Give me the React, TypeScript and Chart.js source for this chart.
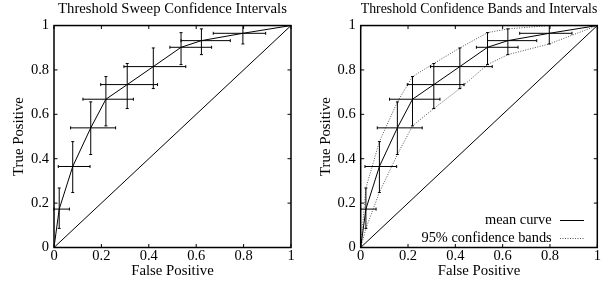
import React, { useEffect, useRef } from "react";
import { Chart, registerables } from "chart.js";
Chart.register(...registerables);

const FONT = "'Liberation Serif', 'Times New Roman', serif";

// ROC mean curve (threshold averaged)
const fpr = [0, 0.022, 0.079, 0.155, 0.219, 0.309, 0.419, 0.536, 0.622, 0.797, 1];
const tpr = [0, 0.173, 0.365, 0.539, 0.668, 0.734, 0.815, 0.902, 0.932, 0.965, 1];

// confidence intervals for interior points (index 1..9)
const tprLow = [0.086, 0.248, 0.419, 0.548, 0.626, 0.716, 0.824, 0.869, 0.917];
const tprHigh = [0.268, 0.477, 0.656, 0.77, 0.829, 0.899, 0.968, 0.985, 1.0];
const fprLow = [0, 0.018, 0.07, 0.122, 0.197, 0.295, 0.489, 0.536, 0.672];
const fprHigh = [0.065, 0.152, 0.26, 0.335, 0.437, 0.556, 0.665, 0.744, 0.893];

// chance diagonal
const diagX = [0, 1];
const diagY = [0, 1];

const tickValues = [0, 0.2, 0.4, 0.6, 0.8, 1];
const titles = ["Threshold Sweep Confidence Intervals", "Threshold Confidence Bands and Intervals"];
const xTitle = "False Positive";
const yTitle = "True Positive";
const legendLabels = ["mean curve", "95% confidence bands"];

const BAND_COLOR = "#555";
const BAND_DASH = [1, 1.5];

const pts = (xs: number[], ys: number[]) => xs.map((v, i) => ({ x: v, y: ys[i] }));
const fmtTick = (v: any) => String(Math.round(Number(v) * 10) / 10);

const framePlugin = {
  id: "frame",
  afterDatasetsDraw(chart: any, _args: any, opts: any) {
    const { ctx, chartArea: a } = chart;
    const x = chart.scales.x;
    const y = chart.scales.y;
    ctx.save();
    ctx.strokeStyle = "#000";
    ctx.lineWidth = 1;
    const cap = 1.5;
    for (let i = 0; i < tprLow.length; i++) {
      const px = x.getPixelForValue(fpr[i + 1]);
      const py = y.getPixelForValue(tpr[i + 1]);
      const yl = y.getPixelForValue(tprLow[i]);
      const yh = y.getPixelForValue(tprHigh[i]);
      const xl = x.getPixelForValue(fprLow[i]);
      const xh = x.getPixelForValue(fprHigh[i]);
      ctx.beginPath();
      ctx.moveTo(px, yl); ctx.lineTo(px, yh);
      ctx.moveTo(px - cap, yl); ctx.lineTo(px + cap, yl);
      ctx.moveTo(px - cap, yh); ctx.lineTo(px + cap, yh);
      ctx.moveTo(xl, py); ctx.lineTo(xh, py);
      ctx.moveTo(xl, py - cap); ctx.lineTo(xl, py + cap);
      ctx.moveTo(xh, py - cap); ctx.lineTo(xh, py + cap);
      ctx.stroke();
    }
    // inward ticks on all four sides
    const tl = 3.5;
    ctx.beginPath();
    for (const v of tickValues) {
      const px = x.getPixelForValue(v);
      ctx.moveTo(px, a.bottom); ctx.lineTo(px, a.bottom - tl);
      ctx.moveTo(px, a.top); ctx.lineTo(px, a.top + tl);
      const py = y.getPixelForValue(v);
      ctx.moveTo(a.left, py); ctx.lineTo(a.left + tl, py);
      ctx.moveTo(a.right, py); ctx.lineTo(a.right - tl, py);
    }
    ctx.stroke();
    // frame
    ctx.lineWidth = 1.5;
    ctx.strokeRect(a.left, a.top, a.right - a.left, a.bottom - a.top);

    if (opts && opts.legend) {
      ctx.font = `14.4px ${FONT}`;
      ctx.fillStyle = "#000";
      ctx.textAlign = "right";
      ctx.textBaseline = "middle";
      const rows = [a.bottom - 27.5, a.bottom - 9.5];
      legendLabels.forEach((lab, i) => {
        const ry = rows[i];
        ctx.fillText(lab, a.right - 45.6, ry);
        ctx.beginPath();
        ctx.lineWidth = 1;
        if (i === 1) {
          ctx.setLineDash(BAND_DASH);
          ctx.strokeStyle = BAND_COLOR;
        } else {
          ctx.setLineDash([]);
          ctx.strokeStyle = "#000";
        }
        ctx.moveTo(a.right - 37.3, Math.round(ry) + 0.5);
        ctx.lineTo(a.right - 13.3, Math.round(ry) + 0.5);
        ctx.stroke();
      });
      ctx.setLineDash([]);
    }
    ctx.restore();
  },
};

type Props = {
  title: string;
  bands: boolean;
  left: number;
  width: number;
  yWidth: number;
  padRight: number;
  yTitlePad: number;
};

function RocChart({ title, bands, left, width, yWidth, padRight, yTitlePad }: Props) {
  const ref = useRef<HTMLCanvasElement>(null);
  useEffect(() => {
    const datasets: any[] = [
      {
        label: "diagonal",
        data: pts(diagX, diagY),
        showLine: true,
        borderColor: "#000",
        borderWidth: 1,
        pointRadius: 0,
        tension: 0,
      },
      {
        label: legendLabels[0],
        data: pts(fpr, tpr),
        showLine: true,
        borderColor: "#000",
        borderWidth: 1,
        pointRadius: 0,
        tension: 0,
      },
    ];
    if (bands) {
      const upY = [0, ...tprHigh, 1];
      const loY = [0, ...tprLow, 1];
      datasets.push(
        {
          label: "upper band",
          data: pts(fpr, upY),
          showLine: true,
          borderColor: BAND_COLOR,
          borderWidth: 1,
          borderDash: BAND_DASH,
          pointRadius: 0,
          tension: 0,
        },
        {
          label: "lower band",
          data: pts(fpr, loY),
          showLine: true,
          borderColor: BAND_COLOR,
          borderWidth: 1,
          borderDash: BAND_DASH,
          pointRadius: 0,
          tension: 0,
        }
      );
    }
    const tickFont = { family: FONT, size: 14.5 };
    const axisFont = { family: FONT, size: 14.8 };
    const chart = new Chart(ref.current as HTMLCanvasElement, {
      type: "scatter",
      data: { datasets },
      plugins: [framePlugin],
      options: {
        animation: false,
        responsive: false,
        devicePixelRatio: 1,
        layout: { padding: { left: 0, right: padRight, top: 0, bottom: 0 } },
        plugins: {
          legend: { display: false },
          tooltip: { enabled: false },
          title: {
            display: true,
            text: title,
            fullSize: false,
            color: "#000",
            font: { family: FONT, size: 14.7, weight: "normal", lineHeight: 1.2 },
            padding: { top: 0.5, bottom: 7.4 },
          },
          frame: { legend: bands },
        } as any,
        scales: {
          x: {
            type: "linear",
            min: 0,
            max: 1,
            grid: { display: false, drawTicks: false },
            border: { display: false },
            ticks: { stepSize: 0.2, color: "#000", font: tickFont, padding: 0, maxRotation: 0, callback: fmtTick },
            title: { display: true, text: xTitle, color: "#000", font: axisFont, padding: { top: 0, bottom: 2 } },
            afterFit: (s: any) => {
              s.height = 34.5;
              s.paddingLeft = 0;
              s.paddingRight = 0;
            },
          },
          y: {
            type: "linear",
            min: 0,
            max: 1,
            grid: { display: false, drawTicks: false },
            border: { display: false },
            ticks: { stepSize: 0.2, color: "#000", font: tickFont, padding: 5, callback: fmtTick },
            title: { display: true, text: yTitle, color: "#000", font: axisFont, padding: { top: yTitlePad, bottom: 0 } },
            afterFit: (s: any) => {
              s.width = yWidth;
              s.paddingTop = 0;
              s.paddingBottom = 0;
            },
          },
        },
      } as any,
    });
    return () => chart.destroy();
  }, []);
  return (
    <canvas
      ref={ref}
      width={width}
      height={282}
      style={{ position: "absolute", left, top: 0, width, height: 282, display: "block" }}
    />
  );
}

export default function App() {
  return (
    <div style={{ position: "absolute", left: 0, top: 0, width: 615, height: 282, background: "#fff" }}>
      <RocChart title={titles[0]} bands={false} left={0} width={305} yWidth={54} padRight={14} yTitlePad={10.5} />
      <RocChart title={titles[1]} bands={true} left={305} width={310} yWidth={55.7} padRight={17.7} yTitlePad={12} />
    </div>
  );
}
